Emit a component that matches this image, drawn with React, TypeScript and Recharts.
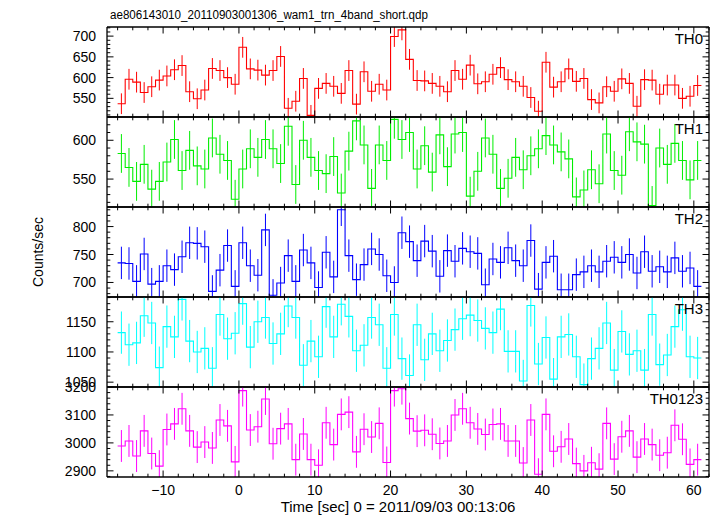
import { ComposedChart, Line, XAxis, YAxis } from "recharts";

// time bin centres [sec], 1 s bins
const timeBins = [
  -15.5, -14.5, -13.5, -12.5, -11.5, -10.5, -9.5, -8.5, -7.5, -6.5,
  -5.5, -4.5, -3.5, -2.5, -1.5, -0.5, 0.5, 1.5, 2.5, 3.5,
  4.5, 5.5, 6.5, 7.5, 8.5, 9.5, 10.5, 11.5, 12.5, 13.5,
  14.5, 15.5, 16.5, 17.5, 18.5, 19.5, 20.5, 21.5, 22.5, 23.5,
  24.5, 25.5, 26.5, 27.5, 28.5, 29.5, 30.5, 31.5, 32.5, 33.5,
  34.5, 35.5, 36.5, 37.5, 38.5, 39.5, 40.5, 41.5, 42.5, 43.5,
  44.5, 45.5, 46.5, 47.5, 48.5, 49.5, 50.5, 51.5, 52.5, 53.5,
  54.5, 55.5, 56.5, 57.5, 58.5, 59.5, 60.5,
];
const binHalf = 0.5;

const th0 = [
  537, 596, 589, 564, 578, 594, 604, 619, 629, 566,
  549, 570, 622, 617, 600, 584, 673, 621, 618, 606,
  617, 651, 526, 543, 598, 509, 574, 586, 579, 562,
  617, 536, 614, 567, 584, 570, 699, 715, 644, 593,
  592, 586, 579, 566, 617, 596, 630, 585, 590, 608,
  624, 595, 590, 579, 552, 519, 637, 577, 590, 621,
  591, 598, 547, 539, 578, 567, 597, 586, 531, 595,
  594, 560, 582, 582, 550, 555, 581,
];
const th1 = [
  583, 565, 547, 569, 537, 547, 572, 601, 561, 587,
  567, 563, 603, 582, 574, 524, 563, 589, 578, 601,
  589, 570, 618, 543, 600, 578, 561, 557, 579, 532,
  586, 625, 594, 538, 594, 574, 627, 601, 610, 563,
  593, 559, 607, 566, 608, 610, 528, 560, 603, 582,
  538, 551, 578, 562, 580, 589, 606, 594, 585, 576,
  527, 536, 562, 544, 608, 561, 555, 611, 598, 595,
  516, 590, 569, 596, 574, 549, 574,
];
const th2 = [
  735, 734, 702, 751, 697, 702, 730, 723, 746, 771,
  770, 764, 684, 722, 766, 693, 771, 730, 713, 794,
  677, 699, 748, 702, 758, 735, 691, 754, 710, 830,
  748, 705, 732, 760, 750, 712, 700, 789, 773, 739,
  774, 756, 711, 757, 738, 761, 755, 752, 696, 742,
  736, 762, 739, 730, 775, 688, 736, 747, 687, 687,
  714, 719, 730, 719, 738, 745, 736, 750, 717, 755,
  720, 728, 719, 744, 720, 726, 693,
];
const th3 = [
  1132, 1112, 1115, 1160, 1148, 1074, 1142, 1125, 1187, 1118,
  1100, 1106, 1073, 1162, 1122, 1131, 1180, 1108, 1150, 1157,
  1114, 1130, 1176, 1157, 1078, 1118, 1092, 1175, 1125, 1179,
  1159, 1102, 1111, 1157, 1145, 1073, 1162, 1089, 1061, 1145,
  1087, 1130, 1102, 1119, 1137, 1155, 1161, 1152, 1139, 1132,
  1171, 1101, 1101, 1052, 1177, 1080, 1124, 1055, 1125, 1129,
  1092, 1046, 1089, 1106, 1148, 1070, 1134, 1096, 1102, 1070,
  1162, 1079, 1095, 1142, 1170, 1092, 1090,
];
const th0123 = [
  2989, 3007, 2953, 3043, 2962, 2917, 3048, 3068, 3122, 3043,
  2985, 3003, 2982, 3082, 3061, 2932, 3187, 3046, 3058, 3157,
  2997, 3051, 3068, 2940, 3032, 2940, 2920, 3072, 2994, 3102,
  3110, 2968, 3049, 3021, 3070, 2930, 3187, 3194, 3087, 3042,
  3045, 3031, 2998, 3007, 3100, 3122, 3072, 3050, 3030, 3066,
  3068, 3007, 3007, 2928, 3082, 2888, 3102, 2970, 2986, 3014,
  2926, 2900, 2929, 2906, 3070, 2942, 3022, 3043, 2949, 3014,
  2994, 2956, 2965, 3063, 3013, 2923, 2940,
];

const xTicks = [
  -16, -14, -12, -10, -8, -6, -4, -2, 0, 2, 4, 6, 8, 10, 12, 14, 16, 18, 20,
  22, 24, 26, 28, 30, 32, 34, 36, 38, 40, 42, 44, 46, 48, 50, 52, 54, 56, 58, 60, 62,
];

const panels = [
  { name: "TH0", values: th0, err: 25, color: "#ff0000", domain: [505, 722], minor: 10, major: 50 },
  { name: "TH1", values: th1, err: 25, color: "#00ee00", domain: [514, 630], minor: 10, major: 50 },
  { name: "TH2", values: th2, err: 29, color: "#0000ff", domain: [674, 835], minor: 10, major: 50 },
  { name: "TH3", values: th3, err: 35, color: "#00ffff", domain: [1042, 1191], minor: 10, major: 50 },
  { name: "TH0123", values: th0123, err: 57, color: "#ff00ff", domain: [2878, 3200], minor: 20, major: 100 },
];

const W = 717;
const H = 516;
const LEFT = 107;
const RIGHT = 709;
const TOP = 27;
const PANEL_H = 90;
const FONT = "'Liberation Sans', Arial, Helvetica, sans-serif";

const range = (a: number, b: number, step: number) => {
  const out: number[] = [];
  for (let v = Math.ceil(a / step) * step; v <= b; v += step) out.push(v);
  return out;
};

const fmt = (v: number) => (v < 0 ? `\u2212${-v}` : `${v}`);

const YTick = (side: "l" | "r", major: number) => (props: any) => {
  const { x, y, payload } = props;
  const isMajor = payload.value % major === 0;
  const len = isMajor ? 6.5 : 3.3;
  const dir = side === "l" ? 1 : -1;
  return (
    <g>
      <line x1={x} y1={y} x2={x + dir * len} y2={y} stroke="#000" strokeWidth={1} />
      {side === "l" && isMajor && (
        <text x={x - 11} y={y} textAnchor="end" dominantBaseline="central" fontSize={14} fontFamily={FONT} fill="#000">
          {payload.value}
        </text>
      )}
    </g>
  );
};

const XTick = (side: "t" | "b", showLabel: boolean) => (props: any) => {
  const { x, y, payload } = props;
  const isMajor = payload.value % 10 === 0;
  const len = isMajor ? 6.5 : 3.3;
  const dir = side === "b" ? -1 : 1;
  return (
    <g>
      <line x1={x} y1={y} x2={x} y2={y + dir * len} stroke="#000" strokeWidth={1} />
      {showLabel && isMajor && (
        <text x={x} y={y + 13} textAnchor="middle" dominantBaseline="central" fontSize={14} fontFamily={FONT} fill="#000">
          {fmt(payload.value)}
        </text>
      )}
    </g>
  );
};

const axisLine = { stroke: "#000", strokeWidth: 1.3 };

const Panel = ({ p, idx }: { p: typeof panels[number]; idx: number }) => {
  const top = TOP + idx * PANEL_H;
  const last = idx === panels.length - 1;
  const n = p.values.length;
  const stepData = [
    { t: timeBins[0] - binHalf, v: p.values[0] },
    ...timeBins.map((t, i) => ({ t, v: p.values[i] })),
    { t: timeBins[n - 1] + binHalf, v: p.values[n - 1] },
  ];
  // error bars: one vertical segment per bin, broken by nulls
  const errData = timeBins.flatMap((t, i) => [
    { t, v: p.values[i] - p.err },
    { t, v: p.values[i] + p.err },
    { t, v: null },
  ]);
  const yTicks = range(p.domain[0], p.domain[1], p.minor);
  return (
    <div style={{ position: "absolute", left: 0, top: 0 }}>
      <ComposedChart
        width={W}
        height={H}
        margin={{ top: top - 1, bottom: H - top - PANEL_H - 1, left: LEFT - 1, right: W - RIGHT - 1 }}
      >
        <XAxis
          xAxisId="b"
          type="number"
          dataKey="t"
          domain={[-17.4, 62]}
          allowDataOverflow
          ticks={xTicks}
          interval={0}
          height={1}
          tickSize={0}
          tickMargin={0}
          axisLine={axisLine}
          tick={XTick("b", last)}
        />
        <XAxis
          xAxisId="t"
          orientation="top"
          type="number"
          dataKey="t"
          domain={[-17.4, 62]}
          allowDataOverflow
          ticks={xTicks}
          interval={0}
          height={1}
          tickSize={0}
          tickMargin={0}
          axisLine={axisLine}
          tick={XTick("t", false)}
        />
        <YAxis
          yAxisId="l"
          type="number"
          domain={p.domain}
          allowDataOverflow
          ticks={yTicks}
          interval={0}
          width={1}
          tickSize={0}
          tickMargin={0}
          axisLine={axisLine}
          tick={YTick("l", p.major)}
        />
        <YAxis
          yAxisId="r"
          orientation="right"
          type="number"
          domain={p.domain}
          allowDataOverflow
          ticks={yTicks}
          interval={0}
          width={1}
          tickSize={0}
          tickMargin={0}
          axisLine={axisLine}
          tick={YTick("r", p.major)}
        />
        <Line
          xAxisId="b"
          yAxisId="l"
          data={errData}
          dataKey="v"
          type="linear"
          connectNulls={false}
          stroke={p.color}
          strokeWidth={1}
          dot={false}
          activeDot={false}
          isAnimationActive={false}
        />
        <Line
          xAxisId="b"
          yAxisId="l"
          data={stepData}
          dataKey="v"
          type="step"
          stroke={p.color}
          strokeWidth={1.1}
          dot={false}
          activeDot={false}
          isAnimationActive={false}
        />
      </ComposedChart>
    </div>
  );
};

export default function App() {
  return (
    <div style={{ position: "absolute", left: 0, top: 0, width: W, height: H, background: "#fff", overflow: "hidden" }}>
      {panels.map((p, i) => (
        <Panel key={p.name} p={p} idx={i} />
      ))}
      <svg width={W} height={H} style={{ position: "absolute", left: 0, top: 0, pointerEvents: "none" }}>
        <text x={110} y={19} fontSize={12.5} textLength={318} lengthAdjust="spacingAndGlyphs" fontFamily={FONT} fill="#000">
          ae806143010_20110903001306_wam1_trn_4band_short.qdp
        </text>
        <text
          x={0}
          y={0}
          transform={`translate(43, ${TOP + (PANEL_H * panels.length) / 2}) rotate(-90)`}
          textAnchor="middle"
          fontSize={14}
          fontFamily={FONT}
          fill="#000"
        >
          Counts/sec
        </text>
        <text x={398} y={512} textAnchor="middle" fontSize={15} fontFamily={FONT} fill="#000">
          Time [sec] 0 = 2011/09/03 00:13:06
        </text>
        {panels.map((p, i) => (
          <text
            key={p.name}
            x={703}
            y={TOP + i * PANEL_H + 16.5}
            textAnchor="end"
            fontSize={15}
            fontFamily={FONT}
            fill="#000"
          >
            {p.name}
          </text>
        ))}
      </svg>
    </div>
  );
}
